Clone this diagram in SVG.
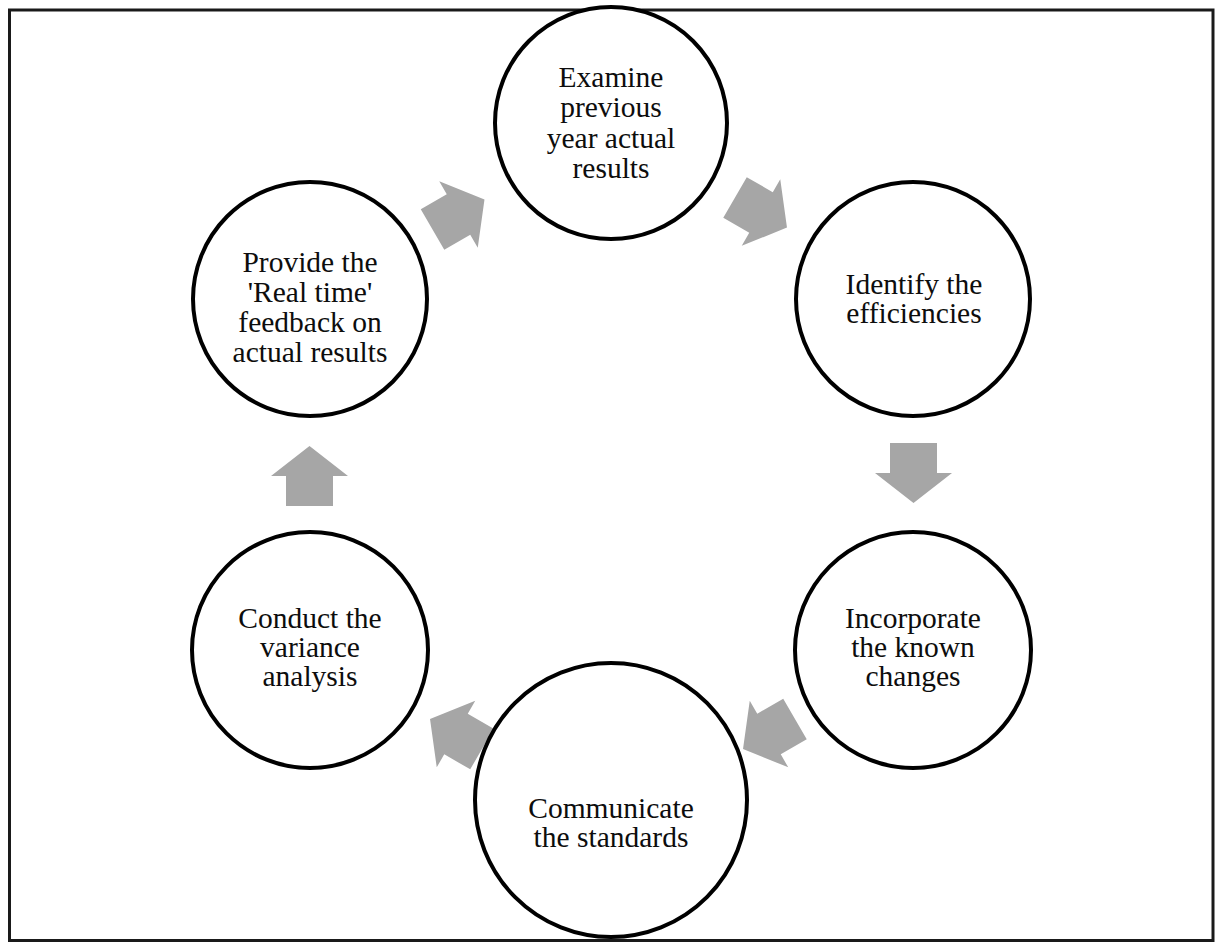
<svg xmlns="http://www.w3.org/2000/svg" xmlns:xlink="http://www.w3.org/1999/xlink" width="1219" height="942" viewBox="0 0 1219 942">
<style>
.frame{fill:none;stroke:#1a1a1a;stroke-width:3}
.node{fill:#ffffff;stroke:#000000;stroke-width:4}
.lbl{font-family:"Liberation Serif","Times New Roman",serif;font-size:29.5px;fill:#0d0d0d;text-anchor:middle}
.arr{fill:#a6a6a6}
</style>
<defs>
<path id="arr" class="arr" d="M-23.5,-30 L23.5,-30 L23.5,0 L38.5,0 L0,30 L-38.5,0 L-23.5,0 Z"/>
</defs>
<rect class="frame" x="9.5" y="10" width="1203.5" height="930.5"/>
<g id="connectors">
<use xlink:href="#arr" href="#arr" transform="translate(761,212.5) rotate(-60)"/>
<use xlink:href="#arr" href="#arr" transform="translate(913.5,473)"/>
<use xlink:href="#arr" href="#arr" transform="translate(769,734) rotate(60)"/>
<use xlink:href="#arr" href="#arr" transform="translate(456,734) rotate(120)"/>
<use xlink:href="#arr" href="#arr" transform="translate(309.5,476) rotate(180)"/>
<use xlink:href="#arr" href="#arr" transform="translate(458.5,214.5) rotate(240)"/>
</g>
<g id="n1">
<circle class="node" cx="611" cy="123" r="116"/>
<text class="lbl" x="611" y="87">Examine</text>
<text class="lbl" x="611" y="117">previous</text>
<text class="lbl" x="611" y="147.5">year actual</text>
<text class="lbl" x="611" y="178">results</text>
</g>
<g id="n2">
<circle class="node" cx="913" cy="299" r="117"/>
<text class="lbl" x="914" y="294">Identify the</text>
<text class="lbl" x="914" y="323">efficiencies</text>
</g>
<g id="n3">
<circle class="node" cx="913" cy="650" r="118"/>
<text class="lbl" x="913" y="628">Incorporate</text>
<text class="lbl" x="913" y="657">the known</text>
<text class="lbl" x="913" y="686">changes</text>
</g>
<g id="n4">
<ellipse class="node" cx="611" cy="800" rx="136" ry="137"/>
<text class="lbl" x="611" y="818">Communicate</text>
<text class="lbl" x="611" y="847">the standards</text>
</g>
<g id="n5">
<circle class="node" cx="310" cy="650" r="118"/>
<text class="lbl" x="310" y="628">Conduct the</text>
<text class="lbl" x="310" y="657">variance</text>
<text class="lbl" x="310" y="686">analysis</text>
</g>
<g id="n6">
<circle class="node" cx="310" cy="299" r="117"/>
<text class="lbl" x="310" y="272">Provide the</text>
<text class="lbl" x="310" y="302">'Real time'</text>
<text class="lbl" x="310" y="332">feedback on</text>
<text class="lbl" x="310" y="362">actual results</text>
</g>
</svg>
